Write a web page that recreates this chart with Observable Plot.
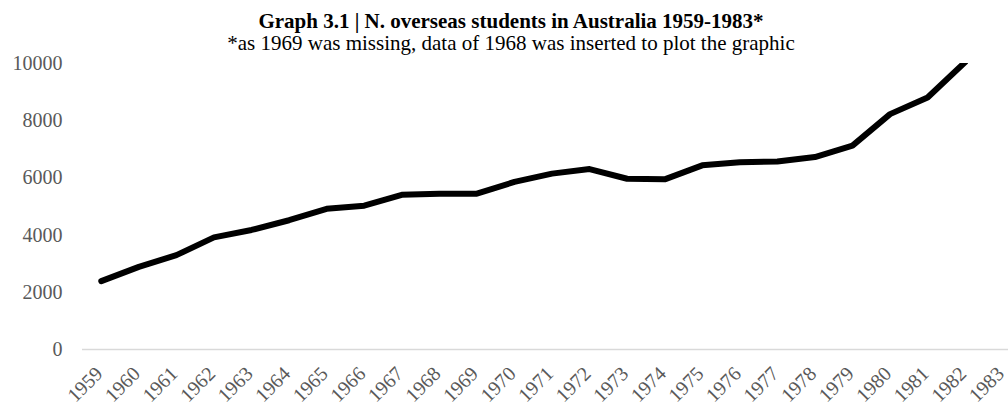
<!DOCTYPE html>
<html>
<head>
<meta charset="utf-8">
<script src="https://cdn.jsdelivr.net/npm/d3@7"></script>
<script src="https://cdn.jsdelivr.net/npm/@observablehq/plot@0.6"></script>
<style>
  html, body { margin: 0; padding: 0; background: #fff; overflow: hidden; }
  #wrap { width: 1008px; height: 405px; position: relative; font-family: "Liberation Serif", "Times New Roman", serif; }
  #title { position: absolute; left: 0; width: 1022px; top: 10px; text-align: center; font-weight: bold; font-size: 21px; line-height: 23px; color: #000; white-space: nowrap; }
  #subtitle { position: absolute; left: 0; width: 1022px; top: 32px; text-align: center; font-size: 21px; line-height: 23px; color: #000; white-space: nowrap; }
  #chart { position: absolute; left: 0; top: 50px; }
</style>
</head>
<body>
<div id="wrap">
  <div id="title">Graph 3.1 | N. overseas students in Australia 1959-1983*</div>
  <div id="subtitle">*as 1969 was missing, data of 1968 was inserted to plot the graphic</div>
  <div id="chart"></div>
</div>
<script>
// Years on the category axis
const years = [1959, 1960, 1961, 1962, 1963, 1964, 1965, 1966, 1967, 1968, 1969, 1970,
               1971, 1972, 1973, 1974, 1975, 1976, 1977, 1978, 1979, 1980, 1981, 1982, 1983];
// Number of overseas students (1969 repeats the 1968 figure)
const students = [2390, 2890, 3300, 3920, 4180, 4520, 4920, 5030, 5410, 5450, 5450, 5860,
                  6150, 6310, 5970, 5950, 6440, 6550, 6570, 6730, 7130, 8230, 8810, 10050, null];
// Value axis ticks
const yTicks = [0, 2000, 4000, 6000, 8000, 10000];

const data = years.map((year, i) => ({year, value: students[i]}));

const chart = Plot.plot({
  width: 1008,
  height: 355,
  marginTop: 13,
  marginBottom: 56,
  marginLeft: 82,
  marginRight: 0,
  style: {fontFamily: "Liberation Serif, Times New Roman, serif", background: "transparent", overflow: "hidden"},
  x: {type: "linear", domain: [1958.5, 1983.5], range: [82, 1021], axis: null},
  y: {domain: [0, 10000]},
  marks: [
    Plot.ruleY([0], {stroke: "#d9d9d9", strokeWidth: 1.5}),
    Plot.axisY({ticks: yTicks, tickFormat: d => String(d), tickSize: 0, tickPadding: 20,
                fontSize: 20, color: "#595959", label: null}),
    // Slanted year labels hanging below the baseline
    Plot.text(years, {x: d => d, y: () => 0, text: d => String(d), rotate: -45,
                      textAnchor: "end", dx: -2, dy: 21, fontSize: 20, fill: "#595959"}),
    Plot.line(data, {x: "year", y: "value", stroke: "#000", strokeWidth: 6,
                     strokeLinejoin: "round", clip: true})
  ]
});
document.getElementById("chart").appendChild(chart);
</script>
</body>
</html>
